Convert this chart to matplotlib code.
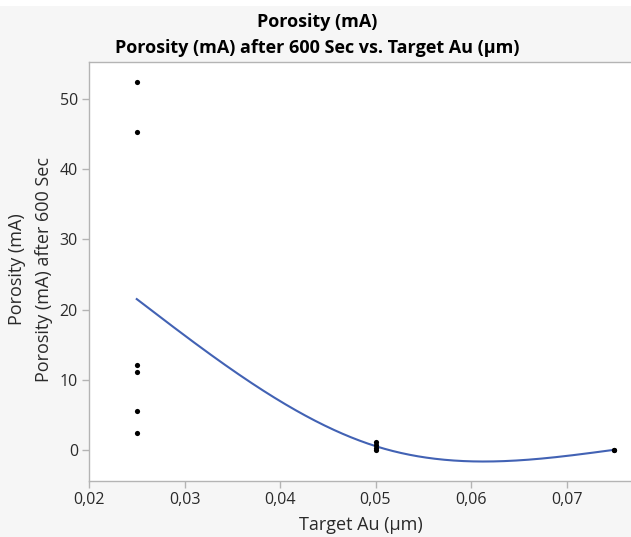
import numpy as np
import matplotlib
matplotlib.use("Agg")
import matplotlib.pyplot as plt
from matplotlib.patches import Rectangle

plt.rcParams['font.family'] = ['Open Sans', 'DejaVu Sans']

# Data
target_au = [0.025, 0.025, 0.025, 0.025, 0.025, 0.025,
             0.05, 0.05, 0.05, 0.05,
             0.075, 0.075]
porosity = [52.3, 45.2, 12.2, 11.2, 5.6, 2.5,
            1.2, 0.7, 0.4, 0.1,
            0.1, 0.05]
x_ticks = [0.02, 0.03, 0.04, 0.05, 0.06, 0.07]
x_tick_labels = ["0,02", "0,03", "0,04", "0,05", "0,06", "0,07"]
y_ticks = [0, 10, 20, 30, 40, 50]

W, H = 631, 537
fig = plt.figure(figsize=(W / 100, H / 100), dpi=100)
fig.patch.set_facecolor('#f6f6f6')
fig.patches.append(Rectangle((0, 1 - 6 / H), 1, 6 / H, transform=fig.transFigure,
                             facecolor='white', edgecolor='none', zorder=-1))

L, T, B = 89, 62, 481
ax = fig.add_axes([L / W, 1 - B / H, (W + 2 - L) / W, (B - T) / H])
ax.set_facecolor('white')

# natural cubic spline through group means
xs = np.array(target_au)
ys = np.array(porosity)
ux = np.unique(xs)
um = np.array([ys[xs == u].mean() for u in ux])
n = len(ux)
h = np.diff(ux)
A = np.zeros((n, n)); rhs = np.zeros(n)
A[0, 0] = 1; A[-1, -1] = 1
for i in range(1, n - 1):
    A[i, i - 1] = h[i - 1]; A[i, i] = 2 * (h[i - 1] + h[i]); A[i, i + 1] = h[i]
    rhs[i] = 6 * ((um[i + 1] - um[i]) / h[i] - (um[i] - um[i - 1]) / h[i - 1])
M = np.linalg.solve(A, rhs)
xf = np.linspace(ux[0], ux[-1], 400)
yf = np.zeros_like(xf)
for k, xv in enumerate(xf):
    i = min(np.searchsorted(ux, xv, side='right') - 1, n - 2)
    a = ux[i + 1] - xv; b = xv - ux[i]; hi = h[i]
    yf[k] = (M[i] * a**3 + M[i + 1] * b**3) / (6 * hi) \
        + (um[i] / hi - M[i] * hi / 6) * a + (um[i + 1] / hi - M[i + 1] * hi / 6) * b

ax.plot(xf, yf, color='#4262b4', lw=1.5, zorder=2)
ax.scatter(xs, ys, s=14, color='black', zorder=3, linewidths=0)

ax.set_xlim(0.02, 0.02 + (W + 2 - L) / 9550)
ax.set_ylim(-4.36, 55.2)
ax.set_xticks(x_ticks)
ax.set_xticklabels(x_tick_labels)
ax.set_yticks(y_ticks)

for s in ['left', 'bottom', 'top']:
    ax.spines[s].set_color('#b4b4b4')
    ax.spines[s].set_linewidth(1.0)
ax.spines['right'].set_visible(False)
ax.tick_params(axis='both', direction='out', length=5, width=1, color='#b4b4b4',
               labelsize=11.5, labelcolor='#2a2a2a', pad=3)

fig.text(317 / W, 1 - 22 / H, "Porosity (mA)", ha='center', va='center',
         fontsize=13, fontweight='bold', color='black')
fig.text(317 / W, 1 - 48 / H, "Porosity (mA) after 600 Sec vs. Target Au (µm)",
         ha='center', va='center', fontsize=13, fontweight='bold', color='black')
fig.text(17 / W, 1 - 269 / H, "Porosity (mA)", rotation=90, ha='center', va='center',
         fontsize=13, color='#2a2a2a')
fig.text(44 / W, 1 - 269 / H, "Porosity (mA) after 600 Sec", rotation=90, ha='center',
         va='center', fontsize=13, color='#2a2a2a')
fig.text(361 / W, 1 - 525 / H, "Target Au (µm)", ha='center', va='center',
         fontsize=13, color='#2a2a2a')

fig.savefig("out.png", dpi=100, facecolor=fig.get_facecolor())
